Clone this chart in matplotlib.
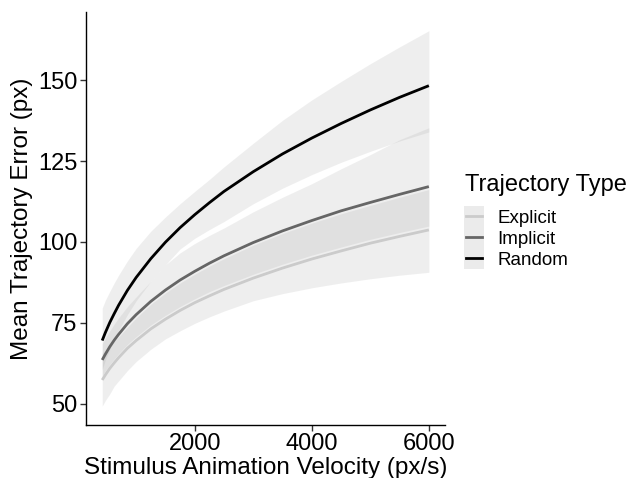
import matplotlib
matplotlib.use("Agg")
import matplotlib.pyplot as plt
from matplotlib.lines import Line2D
from matplotlib.patches import Rectangle
from matplotlib.legend_handler import HandlerBase

plt.rcParams["font.family"] = ["Liberation Sans", "DejaVu Sans"]

# ── Data ───────────────────────────────────────────────────────────────────
VELOCITY = [420, 475, 550, 625, 700, 850, 1000, 1250, 1500, 1750, 2000,
            2250, 2500, 3000, 3500, 4000, 4500, 5000, 5500, 6000]

EXPLICIT = [57.3, 58.9, 60.9, 62.6, 64.2, 67.1, 69.5, 73.1, 76.1, 78.8,
            81.2, 83.3, 85.3, 88.8, 91.9, 94.7, 97.2, 99.6, 101.7, 103.7]
EXPLICIT_LO = [49.2, 51.0, 53.0, 55.4, 57.0, 60.2, 63.0, 66.8, 70.0, 72.5,
               74.8, 76.8, 78.6, 81.8, 84.0, 85.8, 87.3, 88.6, 89.7, 90.6]
EXPLICIT_HI = [65.5, 66.6, 68.0, 69.3, 70.6, 73.6, 76.5, 80.7, 84.2, 87.3,
               90.0, 92.5, 94.8, 99.0, 102.6, 105.8, 108.7, 111.3, 113.8, 116.2]

IMPLICIT = [63.5, 65.3, 67.6, 69.6, 71.4, 74.7, 77.5, 81.6, 85.1, 88.2,
            90.9, 93.4, 95.7, 99.8, 103.4, 106.6, 109.6, 112.2, 114.7, 117.1]
IMPLICIT_LO = [58.5, 60.2, 62.1, 63.8, 65.4, 68.3, 70.7, 74.3, 77.3, 80.0,
               82.4, 84.6, 86.5, 90.0, 93.1, 95.9, 98.4, 100.8, 102.9, 104.9]
IMPLICIT_HI = [68.5, 70.3, 72.5, 74.6, 76.5, 80.0, 83.0, 87.8, 92.9, 96.6,
               99.5, 102.0, 104.3, 109.3, 113.8, 118.0, 122.6, 127.0, 131.6, 135.3]

RANDOM = [69.5, 72.0, 75.1, 77.8, 80.4, 85.0, 89.0, 94.8, 99.9, 104.4,
          108.4, 112.1, 115.6, 121.7, 127.2, 132.1, 136.6, 140.8, 144.7, 148.3]
RANDOM_LO = [60.5, 63.6, 66.8, 69.8, 72.6, 77.5, 81.8, 87.8, 92.9, 97.8,
             101.1, 103.8, 106.3, 111.8, 116.6, 120.8, 124.6, 128.0, 131.2, 134.0]
RANDOM_HI = [79.5, 82.0, 84.7, 87.3, 89.7, 94.1, 98.0, 103.3, 107.7, 111.8,
             115.6, 119.3, 123.2, 130.5, 137.6, 143.9, 149.6, 155.1, 160.3, 165.3]

GROUPS = ["Explicit", "Implicit", "Random"]
COLORS = {"Explicit": "#CBCBCB", "Implicit": "#666666", "Random": "#000000"}

series = {
    "Explicit": (EXPLICIT, EXPLICIT_LO, EXPLICIT_HI),
    "Implicit": (IMPLICIT, IMPLICIT_LO, IMPLICIT_HI),
    "Random": (RANDOM, RANDOM_LO, RANDOM_HI),
}


class KeyHandler(HandlerBase):
    """ggplot-style legend key: grey square with a short line on it."""

    def create_artists(self, legend, orig_handle, xdescent, ydescent,
                       width, height, fontsize, trans):
        bg = Rectangle((-xdescent, -ydescent), width, height,
                       facecolor="#EBEBEB", edgecolor="none", transform=trans)
        y = height / 2 - ydescent
        ln = Line2D([-xdescent + 0.1 * width, -xdescent + 0.9 * width], [y, y],
                    color=orig_handle.get_color(), lw=2.0, transform=trans)
        return [bg, ln]


# ── Figure ─────────────────────────────────────────────────────────────────
fig = plt.figure(figsize=(6.36, 4.78), dpi=100)
ax = fig.add_axes([0.135, 0.111, 0.565, 0.864])

for g in GROUPS:
    mid, lo, hi = series[g]
    ax.fill_between(VELOCITY, lo, hi, color="#9E9E9E", alpha=0.17,
                    linewidth=0)
    ax.plot(VELOCITY, mid, color=COLORS[g], lw=2.0, solid_capstyle="butt")

ax.set_xlim(141, 6279)
ax.set_ylim(43.4, 171.1)
ax.set_xticks([2000, 4000, 6000])
ax.set_yticks([50, 75, 100, 125, 150])

for side in ["top", "right"]:
    ax.spines[side].set_visible(False)
for side in ["left", "bottom"]:
    ax.spines[side].set_linewidth(1.0)
    ax.spines[side].set_color("black")
ax.tick_params(axis="both", labelsize=17, length=4, width=1.0,
               color="#333333", pad=2)

ax.set_xlabel("Stimulus Animation Velocity (px/s)", fontsize=17.5, labelpad=1)
ax.set_ylabel("Mean Trajectory Error (px)", fontsize=17.5, labelpad=4)

# legend
fig.text(465 / 636, 1 - 185 / 478, "Trajectory Type", fontsize=17,
         ha="left", va="center")
handles = [Line2D([], [], color=COLORS[g], lw=2.0) for g in GROUPS]
fig.legend(handles, GROUPS, loc="upper left",
           bbox_to_anchor=(464 / 636, 1 - 206 / 478), frameon=False,
           fontsize=13.5, handlelength=1.05, handleheight=1.34,
           handletextpad=0.72, labelspacing=0.0, borderpad=0.0,
           borderaxespad=0.0, handler_map={Line2D: KeyHandler()})

fig.savefig("out.png", dpi=100)
